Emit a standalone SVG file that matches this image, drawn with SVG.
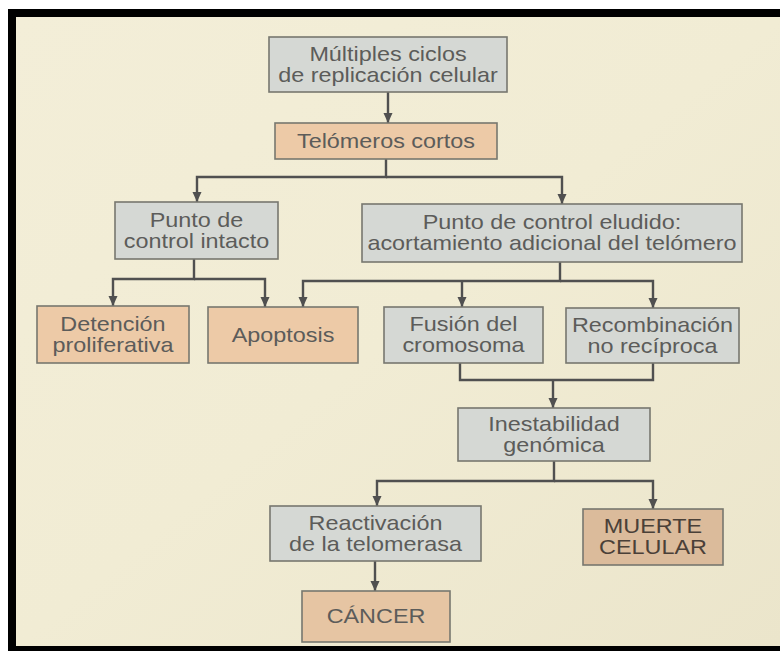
<svg xmlns="http://www.w3.org/2000/svg" width="780" height="651" viewBox="0 0 780 651">
  <defs>
    <linearGradient id="paper" x1="0" y1="0" x2="1" y2="1">
      <stop offset="0" stop-color="#f3eed8"/>
      <stop offset="0.5" stop-color="#f1ecd4"/>
      <stop offset="1" stop-color="#ebe5cb"/>
    </linearGradient>
    <marker id="arrow" markerUnits="userSpaceOnUse" markerWidth="10" markerHeight="10" refX="10" refY="4.5" orient="auto">
      <path d="M0,0 L10,4.5 L0,9 z" fill="#505050"/>
    </marker>
  </defs>
  <style>
    .box { stroke: #77776f; stroke-width: 1.6; }
    .gray { fill: #d5d8d4; }
    .peach { fill: #edcaa7; }
    .dark { fill: #dbbb9b; }
    .can { fill: #e6c5a3; }
    .t { font-family: "Liberation Sans", Arial, sans-serif; font-size: 20px; fill: #5c5c5a; text-anchor: middle; }
    .td { fill: #4a4038; }
    .conn path { fill: none; stroke: #505050; stroke-width: 2.4; }
    .conn path.a { marker-end: url(#arrow); }
  </style>

  <rect x="0" y="0" width="780" height="651" fill="#ffffff"/>
  <rect x="16" y="17" width="764" height="629" fill="url(#paper)"/>
  <rect x="8" y="9" width="772" height="8" fill="#000"/>
  <rect x="8" y="9" width="8" height="642" fill="#000"/>
  <rect x="8" y="646" width="772" height="5" fill="#000"/>

  <g id="connectors" class="conn">
    <path class="a" d="M388,92 V123"/>
    <path class="a" d="M386,159 V177 H197 V202"/>
    <path class="a" d="M386,177 H562 V204"/>
    <path class="a" d="M194,259 V279 H113 V306"/>
    <path class="a" d="M194,279 H265 V307"/>
    <path class="a" d="M560,262 V281 H303 V307"/>
    <path class="a" d="M560,281 H653 V308"/>
    <path class="a" d="M462,281 V307"/>
    <path d="M460,363 V380 H653 V363"/>
    <path class="a" d="M553,380 V408"/>
    <path class="a" d="M554,461 V481 H377 V506"/>
    <path class="a" d="M554,481 H653 V509"/>
    <path class="a" d="M375,561 V591"/>
  </g>

  <g id="n1">
    <rect class="box gray" x="269" y="37" width="238" height="55"/>
    <text class="t" transform="scale(1.17 1)" x="331.62" y="61.5">Múltiples ciclos</text>
    <text class="t" transform="scale(1.17 1)" x="331.62" y="82.5">de replicación celular</text>
  </g>
  <g id="n2">
    <rect class="box peach" x="275" y="123" width="222" height="36"/>
    <text class="t" transform="scale(1.17 1)" x="329.91" y="148">Telómeros cortos</text>
  </g>
  <g id="n3">
    <rect class="box gray" x="115" y="202" width="163" height="57"/>
    <text class="t" transform="scale(1.17 1)" x="167.95" y="227">Punto de</text>
    <text class="t" transform="scale(1.17 1)" x="167.95" y="248">control intacto</text>
  </g>
  <g id="n4">
    <rect class="box gray" x="362" y="204" width="380" height="58"/>
    <text class="t" transform="scale(1.17 1)" x="471.79" y="229.5">Punto de control eludido:</text>
    <text class="t" transform="scale(1.17 1)" x="471.79" y="250.5">acortamiento adicional del telómero</text>
  </g>
  <g id="n5">
    <rect class="box peach" x="37" y="306" width="152" height="57"/>
    <text class="t" transform="scale(1.17 1)" x="96.58" y="331">Detención</text>
    <text class="t" transform="scale(1.17 1)" x="96.58" y="352">proliferativa</text>
  </g>
  <g id="n6">
    <rect class="box peach" x="208" y="307" width="150" height="56"/>
    <text class="t" transform="scale(1.17 1)" x="241.88" y="342">Apoptosis</text>
  </g>
  <g id="n7">
    <rect class="box gray" x="384" y="307" width="159" height="56"/>
    <text class="t" transform="scale(1.17 1)" x="396.15" y="331.5">Fusión del</text>
    <text class="t" transform="scale(1.17 1)" x="396.15" y="352.5">cromosoma</text>
  </g>
  <g id="n8">
    <rect class="box gray" x="566" y="308" width="173" height="55"/>
    <text class="t" transform="scale(1.17 1)" x="557.69" y="332">Recombinación</text>
    <text class="t" transform="scale(1.17 1)" x="557.69" y="353">no recíproca</text>
  </g>
  <g id="n9">
    <rect class="box gray" x="458" y="408" width="192" height="53"/>
    <text class="t" transform="scale(1.17 1)" x="473.5" y="431">Inestabilidad</text>
    <text class="t" transform="scale(1.17 1)" x="473.5" y="452">genómica</text>
  </g>
  <g id="n10">
    <rect class="box gray" x="270" y="506" width="211" height="55"/>
    <text class="t" transform="scale(1.17 1)" x="320.94" y="530">Reactivación</text>
    <text class="t" transform="scale(1.17 1)" x="320.94" y="551">de la telomerasa</text>
  </g>
  <g id="n11">
    <rect class="box dark" x="583" y="509" width="140" height="56"/>
    <text class="t td" transform="scale(1.17 1)" x="558.12" y="533">MUERTE</text>
    <text class="t td" transform="scale(1.17 1)" x="558.12" y="554">CELULAR</text>
  </g>
  <g id="n12">
    <rect class="box can" x="302" y="591" width="148" height="51"/>
    <text class="t" transform="scale(1.17 1)" x="321.37" y="623.5">CÁNCER</text>
  </g>
</svg>
